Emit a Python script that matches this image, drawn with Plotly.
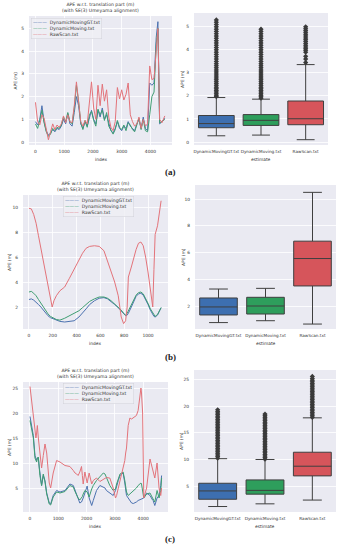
import plotly.graph_objects as go

W, H = 339, 550

# ---------------- data: row (a) ----------------
idx_a = [0, 75, 150, 225, 300, 375, 450, 525, 600, 675,
         750, 825, 900, 975, 1050, 1125, 1200, 1275, 1350, 1425,
         1500, 1575, 1650, 1725, 1800, 1875, 1950, 2025, 2100, 2175,
         2250, 2325, 2400, 2475, 2550, 2625, 2700, 2775, 2850, 2925,
         3000, 3075, 3150, 3225, 3300, 3375, 3450, 3525, 3600, 3675,
         3750, 3825, 3900, 3975, 4050, 4125, 4200, 4260, 4320, 4400,
         4500]
gt_a = [0.9, 0.75, 1.0, 1.6, 0.9, 0.5, 0.3, 0.4, 0.55, 0.45,
        0.6, 0.55, 0.7, 1.0, 0.8, 1.25, 0.8, 0.7, 1.3, 2.0,
        1.6, 0.8, 0.6, 0.9, 0.7, 1.1, 1.4, 1.0, 0.8, 1.4,
        1.1, 1.5, 1.0, 1.2, 0.8, 0.5, 0.4, 0.6, 0.9, 0.6,
        0.5, 0.7, 0.6, 0.9, 0.7, 0.6, 0.5, 0.8, 1.0, 0.6,
        1.1, 0.6, 0.5, 2.6, 2.5, 2.6, 4.6, 5.3, 0.8, 0.9,
        1.05]
dyn_a = [0.8, 0.6, 0.95, 1.4, 0.85, 0.45, 0.25, 0.35, 0.6, 0.5,
         0.65, 0.6, 0.75, 1.1, 0.9, 1.3, 0.9, 0.8, 1.5, 2.5,
         1.8, 0.85, 0.55, 0.95, 0.65, 1.2, 1.35, 0.95, 0.7, 1.45,
         1.2, 1.4, 0.95, 1.3, 0.7, 0.5, 0.35, 0.55, 0.95, 0.65,
         0.55, 0.75, 0.5, 0.85, 0.75, 0.55, 0.45, 0.75, 1.05, 0.55,
         1.0, 0.5, 0.45, 1.2, 2.0, 2.2, 4.3, 5.0, 0.85, 0.9,
         1.0]
raw_a = [1.75, 0.9, 0.75, 1.2, 1.05, 0.6, 0.1, 0.45, 0.8, 0.55,
         0.75, 0.65, 0.8, 1.15, 0.85, 1.2, 0.9, 0.85, 1.6, 2.65,
         1.9, 0.9, 0.7, 0.95, 0.8, 1.6, 2.65, 1.5, 1.0, 2.5,
         1.6, 2.55, 1.8, 2.3, 1.1, 0.65, 0.5, 0.9, 2.4, 1.9,
         2.3, 1.85, 2.1, 2.6, 1.2, 0.9, 0.7, 0.8, 1.1, 0.6,
         1.0, 0.7, 0.8, 3.35, 2.75, 2.8, 4.2, 5.0, 1.0, 0.85,
         1.15]

# ---------------- data: row (b) ----------------
idx_b = [0, 20, 40, 60, 80, 100, 120, 140, 160, 180,
         195, 210, 230, 260, 300, 340, 380, 420, 450, 480,
         510, 550, 590, 630, 660, 690, 720, 750, 775, 795,
         812, 825, 835, 860, 880, 900, 920, 940, 960, 980,
         1000, 1020, 1040, 1050, 1060, 1080, 1110]
gt_b = [2.6, 2.65, 2.55, 2.4, 2.2, 2.0, 1.75, 1.5, 1.3, 1.15,
        1.1, 1.05, 0.95, 0.85, 0.8, 0.82, 0.9, 1.2, 1.5, 1.85,
        2.2, 2.5, 2.7, 2.75, 2.65, 2.45, 2.2, 1.95, 1.7, 1.45,
        1.3, 1.35, 1.5, 2.0, 2.5, 2.85, 3.05, 3.1, 2.95, 2.6,
        2.2, 1.75, 1.4, 1.25, 1.2, 1.35, 1.95]
dyn_b = [3.2, 3.25, 3.1, 2.9, 2.6, 2.3, 2.0, 1.7, 1.45, 1.25,
         1.15, 1.1, 1.0, 0.95, 1.1, 1.3, 1.5, 1.7, 1.95, 2.2,
         2.45, 2.65, 2.8, 2.8, 2.7, 2.5, 2.25, 2.0, 1.75, 1.5,
         1.35, 1.5, 1.7, 2.1, 2.6, 2.95, 3.15, 3.2, 3.05, 2.7,
         2.3, 1.85, 1.5, 1.35, 1.25, 1.4, 1.95]
raw_b = [9.9, 9.85, 9.4, 8.7, 7.7, 6.7, 5.7, 4.7, 3.7, 2.8,
         2.0, 2.5, 2.9, 3.3, 3.6, 4.3, 5.0, 5.8, 6.3, 6.7,
         6.85, 6.9, 6.85, 6.5, 5.7, 4.8, 4.0, 2.9, 1.2, 0.67,
         0.9, 2.0, 4.4, 5.2, 6.0, 6.6, 7.1, 7.2, 6.9, 6.0,
         4.8, 3.5, 2.0, 5.0, 7.8, 8.5, 10.5]

# ---------------- data: row (c) ----------------
idx_c = [0, 60, 118, 176, 210, 235, 260, 295, 330, 350,
         410, 470, 530, 590, 680, 730, 820, 940, 1060, 1235,
         1410, 1530, 1590, 1650, 1700, 1760, 1820, 1850, 1880, 1940,
         2020, 2090, 2180, 2235, 2350, 2470, 2590, 2650, 2700, 2820,
         2940, 3020, 3060, 3120, 3180, 3240, 3290, 3350, 3380, 3410,
         3470, 3530, 3590, 3650, 3710, 3760, 3820, 3860, 3920, 3940,
         3980, 4020, 4120, 4240, 4330, 4350, 4410, 4490, 4560, 4620,
         4650]
gt_c = [19.3, 17.5, 15.5, 11.5, 10.8, 10.5, 11.0, 11.0, 9.0, 8.0,
        5.5, 7.5, 6.5, 4.0, 2.0, 1.8, 3.5, 4.5, 4.2, 4.5,
        5.8, 5.5, 4.5, 3.5, 2.8, 2.0, 2.2, 2.5, 3.0, 4.0,
        5.4, 3.0, 1.5, 2.5, 4.5, 5.5, 5.2, 5.0, 4.5, 4.0,
        3.5, 4.5, 5.5, 6.5, 7.5, 7.8, 8.0, 6.0, 4.0, 3.5,
        3.0, 2.5, 2.0, 1.9, 2.0, 2.2, 2.5, 2.6, 2.8, 2.8,
        2.9, 3.0, 4.0, 3.5, 2.6, 2.5, 1.5, 3.0, 3.5, 5.5,
        7.5]
dyn_c = [18.5, 17.0, 15.0, 11.0, 10.3, 10.2, 11.0, 11.2, 8.8, 7.5,
         5.5, 7.8, 6.2, 3.8, 1.8, 1.6, 3.2, 4.2, 4.0, 4.3,
         5.5, 5.2, 4.3, 3.5, 3.0, 2.6, 3.0, 3.3, 3.8, 4.5,
         4.2, 3.2, 4.8, 5.5, 6.5, 7.2, 8.0, 7.8, 7.0, 5.5,
         4.5, 4.8, 5.8, 6.8, 7.8, 8.0, 8.2, 6.5, 5.0, 4.2,
         3.5, 3.8, 4.0, 4.4, 4.8, 5.0, 5.5, 5.7, 6.0, 5.8,
         4.5, 3.0, 3.8, 4.0, 3.0, 2.8, 2.2, 4.5, 3.0, 4.5,
         7.0]
raw_c = [25.3, 22.5, 20.0, 16.5, 15.0, 16.0, 17.5, 15.0, 13.0, 11.5,
         9.0, 11.5, 13.8, 12.0, 6.0, 5.0, 8.0, 10.5, 10.2, 9.5,
         9.3, 8.5, 8.0, 7.8, 7.5, 8.2, 9.3, 7.5, 5.8, 8.2,
         6.0, 8.0, 5.8, 6.5, 7.0, 6.3, 6.8, 7.0, 7.1, 7.0,
         5.0, 3.0, 3.5, 5.0, 6.5, 8.0, 9.0, 10.5, 12.0, 13.0,
         17.5, 19.0, 18.8, 19.0, 19.2, 19.5, 20.5, 22.0, 25.0, 24.0,
         20.0, 3.0, 5.0, 10.8, 9.0, 8.5, 7.0, 10.0, 5.0, 3.5,
         5.0]

# ---------------- box statistics ----------------
names = ["DynamicMovingGT.txt", "DynamicMoving.txt", "RawScan.txt"]
# order: GT, Dynamic, Raw
q1_a = [0.62, 0.72, 0.75]; med_a = [0.80, 0.94, 1.01]; q3_a = [1.15, 1.19, 1.78]
lo_a = [0.27, 0.30, 0.10]; hi_a = [1.93, 1.86, 3.36]
q1_b = [1.33, 1.40, 3.50]; med_b = [1.93, 2.00, 5.55]; q3_b = [2.60, 2.65, 6.85]
lo_b = [0.76, 0.90, 0.65]; hi_b = [3.27, 3.32, 10.50]
q1_c = [2.65, 3.60, 7.00]; med_c = [4.20, 4.30, 8.80]; q3_c = [5.63, 6.25, 11.40]
lo_c = [1.30, 1.80, 2.50]; hi_c = [10.20, 10.05, 17.80]

out_a = [
    [1.97, 2.03, 2.1, 2.17, 2.24, 2.31, 2.38, 2.46, 2.54, 2.62, 2.7, 2.78, 2.86, 2.95, 3.04,
     3.13, 3.22, 3.31, 3.4, 3.5, 3.6, 3.7, 3.8, 3.9, 4.0, 4.1, 4.2, 4.3, 4.4, 4.5, 4.6,
     4.7, 4.8, 4.9, 5.0, 5.1, 5.2, 5.3],
    [1.9, 1.96, 2.03, 2.1, 2.17, 2.24, 2.31, 2.38, 2.46, 2.54, 2.62, 2.7, 2.78, 2.86, 2.95,
     3.04, 3.13, 3.22, 3.31, 3.4, 3.5, 3.6, 3.7, 3.8, 3.9, 4.0, 4.1, 4.2, 4.3, 4.4, 4.5,
     4.6, 4.7, 4.8, 4.9],
    [3.45, 3.6, 3.72, 3.9, 3.98, 4.05, 4.12, 4.2, 4.28, 4.36, 4.44, 4.52, 4.6, 4.68, 4.76,
     4.84, 4.92, 5.0],
]
out_b = [[], [], []]
out_c = [
    [10.3, 10.6, 10.9, 11.2, 11.5, 11.8, 12.1, 12.4, 12.7, 13.0, 13.3, 13.6, 13.9, 14.2, 14.5,
     14.8, 15.1, 15.4, 15.7, 16.0, 16.3, 16.6, 16.9, 17.2, 17.5, 17.8, 18.1, 18.4, 18.7, 19.0, 19.3],
    [10.1, 10.4, 10.7, 11.0, 11.3, 11.6, 11.9, 12.2, 12.5, 12.8, 13.1, 13.4, 13.7, 14.0, 14.3,
     14.6, 14.9, 15.2, 15.5, 15.8, 16.1, 16.4, 16.7, 17.0, 17.3, 17.6, 17.9, 18.2, 18.5],
    [17.9, 18.2, 18.5, 18.8, 19.1, 19.4, 19.7, 20.0, 20.3, 20.6, 20.9, 21.2, 21.5, 21.8, 22.1,
     22.4, 22.7, 23.0, 23.3, 23.6, 23.9, 24.2, 24.5, 24.8, 25.1, 25.5],
]

# ---------------- styling ----------------
LINE_COLORS = ["#4c72b0", "#3f9e72", "#e3737a"]
BOX_COLORS = ["#3d6fb0", "#2e9e5c", "#d6555b"]
TXT = "#333333"
BG = "#eaeaf2"
FS = 4.4
FAM = "DejaVu Sans"


def px(x):
    return x / W


def py(y):
    return 1 - y / H


fig = go.Figure()

# subplot geometry in pixels: (x0, x1, ytop, ybottom)
geo = {
    1: (29, 172, 16, 145), 2: (194, 328, 13, 145),
    3: (23, 168, 195, 329), 4: (195, 336, 185, 329),
    5: (23, 168, 382, 512), 6: (194, 336, 370, 512),
}
yr = {1: [-0.13, 5.55], 2: [-0.13, 5.6], 3: [0.24, 10.96], 4: [0.28, 11.05],
      5: [0.2, 26.2], 6: [0.28, 26.7]}
xr = {1: [-225, 4750], 3: [-50, 1168], 5: [-247, 4876]}
xdt = {1: 1000, 3: 200, 5: 1000}
ydt = {1: 1, 2: 1, 3: 2, 4: 2, 5: 5, 6: 5}

layout = dict(width=W, height=H, margin=dict(l=0, r=0, t=0, b=0),
              paper_bgcolor="white", plot_bgcolor=BG, showlegend=False,
              font=dict(family=FAM, size=FS, color=TXT))

for k, (x0, x1, yt, yb) in geo.items():
    sx = "" if k == 1 else str(k)
    xa = dict(domain=[px(x0), px(x1)], anchor="y" + sx, showline=False, zeroline=False,
              ticks="", tickfont=dict(size=FS, color=TXT), ticklabelstandoff=3, tickangle=0)
    ya = dict(domain=[py(yb), py(yt)], anchor="x" + sx, showline=False, zeroline=False,
              ticks="", tickfont=dict(size=FS, color=TXT), range=yr[k], dtick=ydt[k],
              tick0=0, showgrid=True, gridcolor="white", gridwidth=0.8, ticklabelstandoff=4)
    if k in xr:
        xa.update(range=xr[k], dtick=xdt[k], tick0=0, showgrid=True,
                  gridcolor="white", gridwidth=0.8)
    else:
        xa.update(type="category", categoryorder="array", categoryarray=names,
                  range=[-0.5, 2.5], showgrid=False, tickfont=dict(size=4.2, color=TXT))
    layout["xaxis" + sx] = xa
    layout["yaxis" + sx] = ya

fig.update_layout(**layout)

# line traces
rows = [(1, idx_a, [gt_a, dyn_a, raw_a]), (3, idx_b, [gt_b, dyn_b, raw_b]),
        (5, idx_c, [gt_c, dyn_c, raw_c])]
for k, idx, series in rows:
    sx = "" if k == 1 else str(k)
    for s, col, nm in zip(series, LINE_COLORS, names):
        fig.add_trace(go.Scatter(x=idx, y=s, mode="lines", name=nm,
                                 line=dict(color=col, width=1),
                                 xaxis="x" + sx, yaxis="y" + sx))

# box traces
boxes = [(2, q1_a, med_a, q3_a, lo_a, hi_a, out_a),
         (4, q1_b, med_b, q3_b, lo_b, hi_b, out_b),
         (6, q1_c, med_c, q3_c, lo_c, hi_c, out_c)]
for k, q1, med, q3, lo, hi, outs in boxes:
    sx = str(k)
    for i, nm in enumerate(names):
        fig.add_trace(go.Box(x=[nm], q1=[q1[i]], median=[med[i]], q3=[q3[i]],
                             lowerfence=[lo[i]], upperfence=[hi[i]],
                             fillcolor=BOX_COLORS[i], line=dict(color="#3f3f3f", width=1),
                             width=0.8, whiskerwidth=0.5, boxpoints=False,
                             xaxis="x" + sx, yaxis="y" + sx, name=nm))
        if outs[i]:
            fig.add_trace(go.Scatter(x=[nm] * len(outs[i]), y=outs[i], mode="markers",
                                     marker=dict(symbol="diamond", size=4, color="#3a3a3a"),
                                     xaxis="x" + sx, yaxis="y" + sx))

ann = []
title = "APE w.r.t. translation part (m)<br>(with SE(3) Umeyama alignment)"
for k in (1, 3, 5):
    x0, x1, yt, yb = geo[k]
    ann.append(dict(text=title, x=px((x0 + x1) / 2), y=py(yt - 1), xref="paper", yref="paper",
                    xanchor="center", yanchor="bottom", showarrow=False,
                    font=dict(size=4.6, color=TXT)))
    ann.append(dict(text="index", x=px((x0 + x1) / 2), y=py(yb + 10), xref="paper", yref="paper",
                    xanchor="center", yanchor="top", showarrow=False, font=dict(size=FS, color=TXT)))
    ann.append(dict(text="APE (m)", x=px(x0 - 14), y=py((yt + yb) / 2), xref="paper", yref="paper",
                    xanchor="center", yanchor="middle", textangle=-90, showarrow=False,
                    font=dict(size=FS, color=TXT)))
for k in (2, 4, 6):
    x0, x1, yt, yb = geo[k]
    ann.append(dict(text="estimate", x=px((x0 + x1) / 2), y=py(yb + 10), xref="paper", yref="paper",
                    xanchor="center", yanchor="top", showarrow=False, font=dict(size=FS, color=TXT)))
    ann.append(dict(text="APE (m)", x=px(x0 - 12), y=py((yt + yb) / 2), xref="paper", yref="paper",
                    xanchor="center", yanchor="middle", textangle=-90, showarrow=False,
                    font=dict(size=FS, color=TXT)))

# legends
leg_lines = "<br>".join(
    f"<span style='color:{c}'>———</span>  {n}" for c, n in zip(LINE_COLORS, names))
for (lx, ly) in [(31, 18), (63, 196), (63, 383)]:
    ann.append(dict(text=leg_lines, x=px(lx), y=py(ly), xref="paper", yref="paper",
                    xanchor="left", yanchor="top", align="left", showarrow=False,
                    bgcolor="rgba(238,238,245,0.85)", bordercolor="#d0d0d8", borderwidth=0.5,
                    borderpad=1.5, font=dict(size=4.6, color=TXT)))

for lab, yy in [("(a)", 172), ("(b)", 357), ("(c)", 539)]:
    ann.append(dict(text=f"<b>{lab}</b>", x=px(170), y=py(yy), xref="paper", yref="paper",
                    xanchor="center", yanchor="middle", showarrow=False,
                    font=dict(family="Liberation Serif", size=9, color="#222222")))

fig.update_layout(annotations=ann)
fig.write_html("out.html", config={"displayModeBar": False, "staticPlot": True},
               post_script="document.body.style.margin='0';")
